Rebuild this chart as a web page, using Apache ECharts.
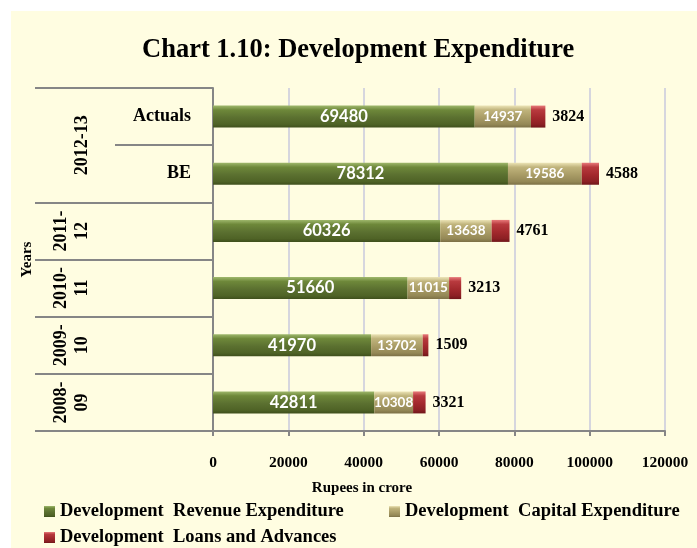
<!DOCTYPE html>
<html>
<head>
<meta charset="utf-8">
<script src="https://cdn.jsdelivr.net/npm/echarts@6/dist/echarts.min.js"></script>
<style>
  html, body { margin: 0; padding: 0; background: #fff; }
  #bg { position: absolute; left: 11px; top: 11px; width: 686px; height: 537px; background: #fffde1; }
  #chart { position: absolute; left: 0; top: 0; width: 697px; height: 548px; }
</style>
</head>
<body>
<div id="bg"></div>
<div id="chart"></div>
<script>
// rows from top to bottom
const rowLabels = ['Actuals', 'BE', '', '', '', '']
const yearLabels = ['', '2012-13', '2011-\n12', '2010-\n11', '2009-\n10', '2008-\n09']
const revenueExp = [69480, 78312, 60326, 51660, 41970, 42811]
const capitalExp = [14937, 19586, 13638, 11015, 13702, 10308]
const loansAdv = [3824, 4588, 4761, 3213, 1509, 3321]
const seriesNames = [
  'Development  Revenue Expenditure',
  'Development  Capital Expenditure',
  'Development  Loans and Advances'
]

const serif = "'Liberation Serif', 'Times New Roman', serif"
const axisGray = '#868686'

function grad (top, hi, mid, low, bottom) {
  return {
    type: 'linear', x: 0, y: 0, x2: 0, y2: 1,
    colorStops: [
      { offset: 0, color: top },
      { offset: 0.2, color: hi },
      { offset: 0.55, color: mid },
      { offset: 0.85, color: low },
      { offset: 1, color: bottom }
    ]
  }
}

const green = grad('#9fb86c', '#6e883a', '#5b7030', '#4f6326', '#3f4f1c')
const tan = grad('#ece4b6', '#c0b47c', '#a99c66', '#948856', '#7c7046')
const red = grad('#e87a7a', '#b83a3e', '#a3292d', '#8c2024', '#701619')

const legendText = { fontFamily: serif, fontWeight: 'bold', fontSize: 18.5, color: '#000' }

const option = {
  animation: false,
  title: {
    text: 'Chart 1.10: Development Expenditure',
    left: 137,
    top: 32,
    textStyle: { fontFamily: serif, fontWeight: 'bold', fontSize: 26.5, color: '#000' }
  },
  legend: [
    { data: [seriesNames[0]], left: 44, top: 502, padding: 0, itemWidth: 11, itemHeight: 11, icon: 'rect', textStyle: legendText },
    { data: [seriesNames[1]], left: 389, top: 502, padding: 0, itemWidth: 11, itemHeight: 11, icon: 'rect', textStyle: legendText },
    { data: [seriesNames[2]], left: 44, top: 528, padding: 0, itemWidth: 11, itemHeight: 11, icon: 'rect', textStyle: legendText }
  ],
  grid: { left: 213, right: 32, top: 88, bottom: 117 },
  xAxis: {
    type: 'value',
    min: 0,
    max: 120000,
    interval: 20000,
    name: 'Rupees in crore',
    nameLocation: 'middle',
    nameGap: 50,
    nameTextStyle: { fontFamily: serif, fontWeight: 'bold', fontSize: 15, color: '#000', padding: [0, 154, 0, 0] },
    axisLine: { show: true, lineStyle: { color: axisGray, width: 2 } },
    axisTick: { show: true, length: 5, lineStyle: { color: axisGray, width: 2 } },
    axisLabel: {
      margin: 24,
      fontFamily: serif,
      fontWeight: 'bold',
      fontSize: 15.5,
      color: '#000',
      formatter: function (v) { return String(v) }
    },
    splitLine: { show: true, lineStyle: { color: '#d6d6de', width: 2 } }
  },
  yAxis: [
    {
      type: 'category',
      inverse: true,
      data: rowLabels,
      position: 'left',
      axisLine: { show: true, lineStyle: { color: axisGray, width: 2 } },
      axisTick: { show: true, length: 98, lineStyle: { color: axisGray, width: 2 } },
      axisLabel: { interval: 0, margin: 22, fontFamily: serif, fontWeight: 'bold', fontSize: 18, color: '#000' },
      splitLine: { show: false }
    },
    {
      type: 'category',
      inverse: true,
      data: yearLabels,
      position: 'left',
      offset: 98,
      name: 'Years',
      nameLocation: 'middle',
      nameRotate: 90,
      nameGap: 80,
      nameTextStyle: { fontFamily: serif, fontWeight: 'bold', fontSize: 15, color: '#000' },
      axisLine: { show: false },
      axisTick: {
        show: true,
        length: 80,
        interval: function (i) { return i !== 1 },
        lineStyle: { color: axisGray, width: 2 }
      },
      axisLabel: {
        interval: 0,
        rotate: 90,
        margin: 22,
        lineHeight: 21,
        fontFamily: serif,
        fontWeight: 'bold',
        fontSize: 18,
        color: '#000',
        formatter: function (v) {
          return v === '2012-13' ? '{s|' + v + '}' : v
        },
        rich: {
          s: { padding: [0, 0, 0, 57], fontFamily: serif, fontWeight: 'bold', fontSize: 18, color: '#000' }
        }
      },
      splitLine: { show: false }
    }
  ],
  series: [
    {
      name: seriesNames[0],
      type: 'bar',
      stack: 'total',
      barWidth: 22,
      data: revenueExp,
      itemStyle: { color: green },
      emphasis: { disabled: true },
      label: { show: true, position: 'inside', color: '#fff', fontFamily: 'Lato', fontWeight: 'bold', fontSize: 16.5 }
    },
    {
      name: seriesNames[1],
      type: 'bar',
      stack: 'total',
      barWidth: 22,
      data: capitalExp,
      itemStyle: { color: tan },
      emphasis: { disabled: true },
      label: { show: true, position: 'inside', color: '#fff', fontFamily: 'Lato', fontWeight: 'bold', fontSize: 13.5 }
    },
    {
      name: seriesNames[2],
      type: 'bar',
      stack: 'total',
      barWidth: 22,
      data: loansAdv,
      itemStyle: { color: red },
      emphasis: { disabled: true },
      label: { show: true, position: 'right', distance: 7, color: '#000', fontFamily: serif, fontWeight: 'bold', fontSize: 16 }
    }
  ]
}

const myChart = echarts.init(document.getElementById('chart'))
myChart.setOption(option)
</script>
</body>
</html>
